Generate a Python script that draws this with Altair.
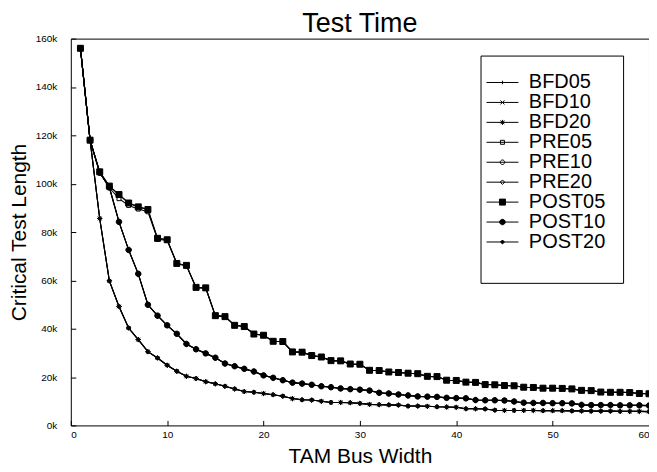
import altair as alt
import pandas as pd

widths = list(range(1, 61))

# Critical test length (thousands)
G05 = [156, 118, 104.9, 99.0, 95.5, 92.0, 90.4, 89.3, 77.4, 76.8,
       67.0, 66.2, 57.1, 56.9, 45.4, 45.0, 41.4, 40.9, 37.8, 37.3,
       34.8, 34.7, 30.4, 30.3, 28.9, 28.3, 26.8, 26.7, 25.4, 25.3,
       22.8, 22.7, 22.1, 21.9, 21.6, 21.4, 20.3, 20.2, 18.7, 18.6,
       17.9, 17.8, 16.9, 16.8, 16.5, 16.4, 15.8, 15.7, 15.4, 15.4,
       15.3, 15.1, 14.5, 14.4, 13.8, 13.7, 13.7, 13.6, 13.2, 13.1]
PRE05 = [156, 118, 104.6, 98.3, 93.8, 91.0, 89.5, 88.4, 77.0, 76.5,
         67.0, 66.0, 57.0, 56.8, 45.4, 45.0, 41.4, 40.9, 37.8, 37.3,
         34.8, 34.7, 30.4, 30.3, 28.9, 28.3, 26.8, 26.7, 25.4, 25.3,
         22.8, 22.7, 22.1, 21.9, 21.6, 21.4, 20.3, 20.2, 18.7, 18.6,
         17.9, 17.8, 16.9, 16.8, 16.5, 16.4, 15.8, 15.7, 15.4, 15.4,
         15.3, 15.1, 14.5, 14.4, 13.8, 13.7, 13.7, 13.6, 13.2, 13.1]
G10 = [156, 118, 104.5, 98.5, 84.2, 72.6, 62.7, 49.9, 45.4, 41.4,
       37.9, 33.7, 31.5, 29.8, 28.0, 25.6, 24.5, 23.4, 22.3, 20.7,
       19.7, 18.7, 17.7, 17.3, 16.8, 16.2, 15.8, 15.3, 15.0, 14.8,
       14.4, 13.5, 13.2, 12.8, 12.4, 12.0, 11.9, 11.8, 11.4, 11.3,
       11.2, 10.5, 10.4, 10.4, 10.3, 9.9, 9.4, 9.3, 9.3, 9.2,
       9.2, 9.1, 8.5, 8.4, 8.4, 8.4, 8.3, 8.3, 8.3, 8.2]
G20 = [156, 118, 85.6, 59.8, 49.2, 40.3, 35.5, 30.5, 27.9, 24.9,
       22.4, 20.3, 19.4, 18.1, 17.2, 16.2, 15.1, 14.0, 13.7, 13.2,
       12.7, 12.1, 11.1, 10.6, 10.5, 10.0, 9.5, 9.5, 9.4, 9.1,
       8.7, 8.6, 8.5, 8.4, 8.0, 8.0, 7.9, 7.7, 7.6, 7.5,
       6.9, 6.9, 6.8, 6.3, 6.2, 6.2, 6.2, 6.2, 6.1, 6.1,
       6.1, 6.0, 6.0, 5.9, 5.9, 5.9, 5.8, 5.8, 5.8, 5.7]

series_names = ["BFD05", "BFD10", "BFD20", "PRE05", "PRE10", "PRE20",
                "POST05", "POST10", "POST20"]
series_values = [G05, G10, G20, PRE05, G10, G20, G05, G10, G20]

rows = []
for name, vals in zip(series_names, series_values):
    for w, v in zip(widths, vals):
        rows.append({"series": name, "width": w, "length": v * 1000})
df = pd.DataFrame(rows)

# marker shapes (unit coordinates), same in plot and legend
marks = [
    "M-0.7,0H0.7M0,-0.7V0.7",
    "M-0.8,-0.8L0.8,0.8M-0.8,0.8L0.8,-0.8",
    "M-1,0H1M0,-1V1M-0.75,-0.75L0.75,0.75M-0.75,0.75L0.75,-0.75",
    "M-0.8,-0.8H0.8V0.8H-0.8Z",
    "M0.9,0A0.9,0.9 0 1,1 -0.9,0A0.9,0.9 0 1,1 0.9,0Z",
    "M0,-0.9L0.9,0L0,0.9L-0.9,0Z",
    "M-1.2,-1.2H1.2V1.2H-1.2Z",
    "M1.1,0A1.1,1.1 0 1,1 -1.1,0A1.1,1.1 0 1,1 1.1,0Z",
    "M0,-0.8L0.8,0L0,0.8L-0.8,0Z",
]
fills = ["black", "black", "black", "white", "white", "white",
         "black", "black", "black"]
strokes = ["black"] * 9
# legend symbols: the marker with a line through it
legend_paths = [p + "M-6.4,0H6.4" for p in marks]

FONT = "Liberation Sans"
x_ticks = [0, 10, 20, 30, 40, 50, 60]
y_ticks = [0, 20000, 40000, 60000, 80000, 100000, 120000, 140000, 160000]

# axes are shifted 5px into the plot so the ticks point inward
x_enc = alt.X("width:Q", scale=alt.Scale(domain=[0, 60], nice=False),
              axis=alt.Axis(title="TAM Bus Width", values=x_ticks, grid=False,
                            domain=False, offset=-5,
                            tickSize=5, labelPadding=4, titlePadding=6))
y_enc = alt.Y("length:Q", scale=alt.Scale(domain=[0, 160000], nice=False),
              axis=alt.Axis(title="Critical Test Length", values=y_ticks, grid=False,
                            domain=False, offset=-5,
                            labelExpr="datum.value / 1000 + 'k'",
                            tickSize=5, labelPadding=14, titlePadding=6))

lines = alt.Chart(df).mark_line(color="black", strokeWidth=1.1).encode(
    x=x_enc, y=y_enc, detail="series:N"
)

points = alt.Chart(df).mark_point(size=25, stroke="black", strokeWidth=1,
                                  opacity=1).encode(
    x=x_enc, y=y_enc,
    shape=alt.Shape("series:N",
                    scale=alt.Scale(domain=series_names, range=marks),
                    legend=None),
    fill=alt.Fill("series:N",
                  scale=alt.Scale(domain=series_names, range=fills),
                  legend=None),
)

def make_legend():
    return alt.Legend(
        orient="none", legendX=411, legendY=17,
        title=" ", titleOrient="bottom", titleFontSize=14,
        titlePadding=0, padding=17,
        strokeColor="black", fillColor="white",
        labelFont=FONT, labelFontSize=20, labelColor="black",
        symbolSize=25, symbolStrokeWidth=1,
        symbolStrokeColor="black", symbolOffset=-5,
        labelOffset=16.5, rowPadding=0)

legend_layer = alt.Chart(df).transform_filter("false").mark_point(
    size=25, strokeWidth=1, opacity=1
).encode(
    x=x_enc, y=y_enc,
    shape=alt.Shape("series:N",
                    scale=alt.Scale(domain=series_names, range=legend_paths),
                    legend=make_legend()),
    fill=alt.Fill("series:N",
                  scale=alt.Scale(domain=series_names, range=fills),
                  legend=make_legend()),
    stroke=alt.Stroke("series:N",
                      scale=alt.Scale(domain=series_names, range=strokes),
                      legend=make_legend()),
)

chart = alt.layer(lines, points, legend_layer).resolve_scale(
    shape="independent", fill="independent", stroke="independent"
).properties(
    width=580, height=388,
    autosize=alt.AutoSizeParams(type="none"),
    padding={"left": 63, "top": 30, "right": 0, "bottom": 42},
    title=alt.Title("Test Time", fontSize=27, font=FONT, fontWeight="normal",
                    color="black", offset=0, dy=4),
).configure_view(stroke="black", strokeWidth=1).configure_axis(
    labelFont=FONT, labelFontSize=10, labelColor="black",
    titleFont=FONT, titleFontSize=21, titleFontWeight="normal", titleColor="black",
    domainColor="black", tickColor="black",
)

chart.save("out.html", embed_options={"renderer": "svg", "actions": False})
